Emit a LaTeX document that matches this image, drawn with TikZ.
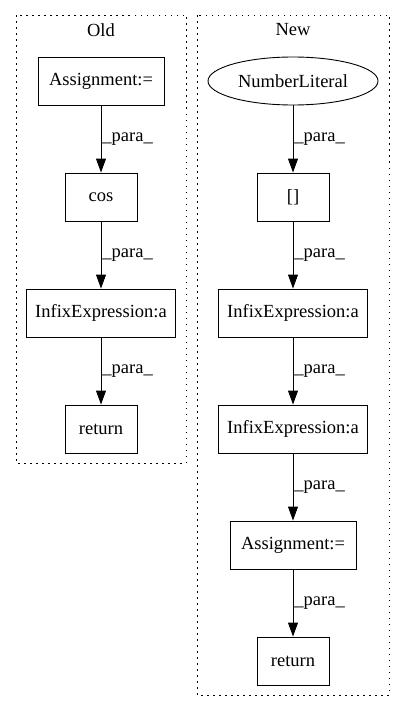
\documentclass[tikz,border=0pt]{standalone}
\usepackage{fontspec}
\setmainfont{Liberation Serif}
\usetikzlibrary{arrows.meta,shapes.geometric}

\begin{document}
\begin{tikzpicture}[x=1pt, y=-1pt, font=\fontsize{18.5}{22}\selectfont,
  every node/.style={rectangle, draw, line width=0.9pt, minimum height=48pt, inner sep=0pt},
  lbl/.style={draw=none, minimum height=0pt, anchor=west, inner sep=1pt},
  title/.style={draw=none, minimum height=0pt},
  para/.style={-{Triangle[length=14pt,width=10pt]}, line width=0.9pt},
  cluster/.style={line width=0.9pt, dash pattern=on 1.5pt off 4.5pt}]
  \useasboundingbox (0,0) rectangle (405,712);

  % old
  \draw[cluster] (16,15) rectangle (186,463);
  \node (old) [title] at (101,30) {Old};
  \node (oassign) [minimum width=126pt] at (101,81) {Assignment:=};
  \node (ocos) [minimum width=72pt] at (101,197) {cos};
  \node (oinfix) [minimum width=149pt] at (101,313) {InfixExpression:a};
  \node (oreturn) [minimum width=72pt] at (101,429) {return};
  \draw[para] (oassign) -- node[lbl] {\_para\_} (ocos);
  \draw[para] (ocos) -- node[lbl] {\_para\_} (oinfix);
  \draw[para] (oinfix) -- node[lbl] {\_para\_} (oreturn);

  % new
  \draw[cluster] (197,15) rectangle (389,695);
  \node (new) [title] at (293,30) {New};
  \node (nnum) [ellipse, minimum width=170pt] at (293,81) {NumberLiteral};
  \node (nidx) [minimum width=72pt] at (293,197) {[]};
  \node (ninfix1) [minimum width=149pt] at (293,313) {InfixExpression:a};
  \node (ninfix2) [minimum width=149pt] at (293,429) {InfixExpression:a};
  \node (nassign) [minimum width=126pt] at (293,545) {Assignment:=};
  \node (nreturn) [minimum width=72pt] at (293,661) {return};
  \draw[para] (nnum) -- node[lbl] {\_para\_} (nidx);
  \draw[para] (nidx) -- node[lbl] {\_para\_} (ninfix1);
  \draw[para] (ninfix1) -- node[lbl] {\_para\_} (ninfix2);
  \draw[para] (ninfix2) -- node[lbl] {\_para\_} (nassign);
  \draw[para] (nassign) -- node[lbl] {\_para\_} (nreturn);
\end{tikzpicture}
\end{document}
